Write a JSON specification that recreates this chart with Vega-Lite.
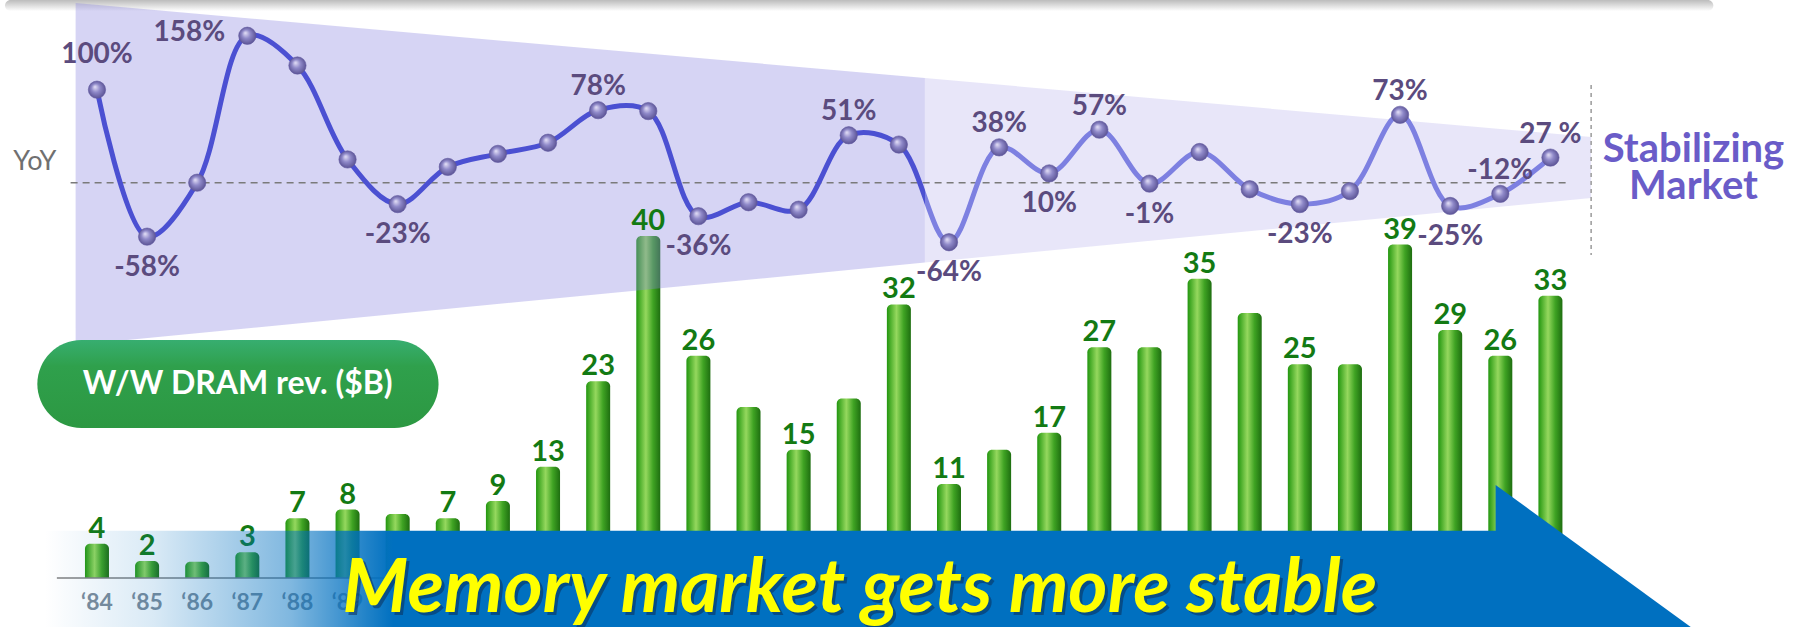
{
  "$schema": "https://vega.github.io/schema/vega-lite/v6.json",
  "width": 1796,
  "height": 627,
  "autosize": {"type": "none"},
  "padding": 0,
  "background": "white",
  "config": {"view": {"stroke": null}, "font": "Lato"},
  "datasets": {
    "dram": [
      {"year": 1984, "rev": 4, "revLabel": "4", "yoy": 100, "yoyLabel": "100%"},
      {"year": 1985, "rev": 2, "revLabel": "2", "yoy": -58, "yoyLabel": "-58%"},
      {"year": 1986, "rev": 1.9, "revLabel": null, "yoy": 0, "yoyLabel": null},
      {"year": 1987, "rev": 3, "revLabel": "3", "yoy": 158, "yoyLabel": "158%"},
      {"year": 1988, "rev": 7, "revLabel": "7", "yoy": 126, "yoyLabel": null},
      {"year": 1989, "rev": 8, "revLabel": "8", "yoy": 25, "yoyLabel": null},
      {"year": 1990, "rev": 7.5, "revLabel": null, "yoy": -23, "yoyLabel": "-23%"},
      {"year": 1991, "rev": 7, "revLabel": "7", "yoy": 17, "yoyLabel": null},
      {"year": 1992, "rev": 9, "revLabel": "9", "yoy": 31, "yoyLabel": null},
      {"year": 1993, "rev": 13, "revLabel": "13", "yoy": 43, "yoyLabel": null},
      {"year": 1994, "rev": 23, "revLabel": "23", "yoy": 78, "yoyLabel": "78%"},
      {"year": 1995, "rev": 40, "revLabel": "40", "yoy": 77, "yoyLabel": null},
      {"year": 1996, "rev": 26, "revLabel": "26", "yoy": -36, "yoyLabel": "-36%"},
      {"year": 1997, "rev": 20, "revLabel": null, "yoy": -21, "yoyLabel": null},
      {"year": 1998, "rev": 15, "revLabel": "15", "yoy": -29, "yoyLabel": null},
      {"year": 1999, "rev": 21, "revLabel": null, "yoy": 51, "yoyLabel": "51%"},
      {"year": 2000, "rev": 32, "revLabel": "32", "yoy": 41, "yoyLabel": null},
      {"year": 2001, "rev": 11, "revLabel": "11", "yoy": -64, "yoyLabel": "-64%"},
      {"year": 2002, "rev": 15, "revLabel": null, "yoy": 38, "yoyLabel": "38%"},
      {"year": 2003, "rev": 17, "revLabel": "17", "yoy": 10, "yoyLabel": "10%"},
      {"year": 2004, "rev": 27, "revLabel": "27", "yoy": 57, "yoyLabel": "57%"},
      {"year": 2005, "rev": 27, "revLabel": null, "yoy": -1, "yoyLabel": "-1%"},
      {"year": 2006, "rev": 35, "revLabel": "35", "yoy": 33, "yoyLabel": null},
      {"year": 2007, "rev": 31, "revLabel": null, "yoy": -7, "yoyLabel": null},
      {"year": 2008, "rev": 25, "revLabel": "25", "yoy": -23, "yoyLabel": "-23%"},
      {"year": 2009, "rev": 25, "revLabel": null, "yoy": -9, "yoyLabel": null},
      {"year": 2010, "rev": 39, "revLabel": "39", "yoy": 73, "yoyLabel": "73%"},
      {"year": 2011, "rev": 29, "revLabel": "29", "yoy": -25, "yoyLabel": "-25%"},
      {"year": 2012, "rev": 26, "revLabel": "26", "yoy": -12, "yoyLabel": "-12%"},
      {"year": 2013, "rev": 33, "revLabel": "33", "yoy": 27, "yoyLabel": "27 %"}
    ],
    "band": [
      {"year": 1983.574, "hi": 193.2, "lo": -174.5, "zone": "a"},
      {"year": 2000.518, "hi": 112.5, "lo": -85.9, "zone": "a"},
      {"year": 2000.518, "hi": 112.5, "lo": -85.9, "zone": "b"},
      {"year": 2013.812, "hi": 49.1, "lo": -16.5, "zone": "b"}
    ],
    "arrowhead": [
      {"x": 2011.907, "top": 10.88, "bot": -8.42},
      {"x": 2016.43, "top": -8.42, "bot": -8.42}
    ]
  },
  "layer": [
    {
      "layer": [
        {
          "data": {"values": [{}]},
          "mark": {"type": "rect", "cornerRadius": 6, "fill": {"gradient": "linear", "x1": 0, "y1": 0, "x2": 0, "y2": 1, "stops": [{"offset": 0, "color": "#bcbcbc"}, {"offset": 1, "color": "#ffffff"}]}},
          "encoding": {
            "x": {"datum": 1982.165, "type": "quantitative", "scale": {"domain": [1982.165, 2017.8], "nice": false, "zero": false}, "axis": null},
            "x2": {"datum": 2016.25},
            "y": {"datum": 67.6, "type": "quantitative", "scale": {"domain": [-5.73, 67.6], "nice": false, "zero": false}, "axis": null},
            "y2": {"datum": 66.3}
          }
        },
        {
          "data": {"name": "dram"},
          "mark": {"type": "bar", "width": 24, "cornerRadiusTopLeft": 5, "cornerRadiusTopRight": 5, "fill": {"gradient": "linear", "x1": 0, "y1": 0, "x2": 1, "y2": 0, "stops": [{"offset": 0, "color": "#22960f"}, {"offset": 0.4, "color": "#95d85e"}, {"offset": 0.7, "color": "#3fa323"}, {"offset": 1, "color": "#1e6e10"}]}},
          "encoding": {
            "x": {"field": "year", "type": "quantitative", "scale": {"domain": [1982.165, 2017.8], "nice": false, "zero": false}, "axis": null},
            "y": {"field": "rev", "type": "quantitative", "scale": {"domain": [-5.73, 67.6], "nice": false, "zero": false}, "axis": null},
            "y2": {"datum": 0}
          }
        }
      ]
    },
    {
      "layer": [
        {
          "data": {"name": "band"},
          "transform": [{"filter": "datum.zone == 'a'"}],
          "mark": {"type": "area", "color": "#8a84e0", "opacity": 0.35},
          "encoding": {
            "x": {"field": "year", "type": "quantitative", "scale": {"domain": [1982.165, 2017.8], "nice": false, "zero": false}, "axis": null},
            "y": {"field": "hi", "type": "quantitative", "scale": {"domain": [-477.7, 196.45], "nice": false, "zero": false}, "axis": null},
            "y2": {"field": "lo"}
          }
        },
        {
          "data": {"name": "band"},
          "transform": [{"filter": "datum.zone == 'b'"}],
          "mark": {"type": "area", "color": "#8a84e0", "opacity": 0.2},
          "encoding": {
            "x": {"field": "year", "type": "quantitative", "scale": {"domain": [1982.165, 2017.8], "nice": false, "zero": false}, "axis": null},
            "y": {"field": "hi", "type": "quantitative", "scale": {"domain": [-477.7, 196.45], "nice": false, "zero": false}, "axis": null},
            "y2": {"field": "lo"}
          }
        },
        {
          "data": {"values": [{}]},
          "mark": {"type": "rule", "color": "#7a7a7a", "strokeWidth": 1.5, "strokeDash": [7, 5]},
          "encoding": {
            "x": {"datum": 1983.474, "type": "quantitative", "scale": {"domain": [1982.165, 2017.8], "nice": false, "zero": false}, "axis": null},
            "x2": {"datum": 2013.395},
            "y": {"datum": 0, "type": "quantitative", "scale": {"domain": [-477.7, 196.45], "nice": false, "zero": false}, "axis": null}
          }
        },
        {
          "data": {"name": "dram"},
          "mark": {"type": "line", "interpolate": "catmull-rom", "strokeWidth": 5, "stroke": {"gradient": "linear", "x1": 0, "y1": 0, "x2": 1, "y2": 0, "stops": [{"offset": 0, "color": "#4b50d2"}, {"offset": 0.5696, "color": "#4b50d2"}, {"offset": 0.5697, "color": "#7d80e1"}, {"offset": 1, "color": "#7d80e1"}]}},
          "encoding": {
            "x": {"field": "year", "type": "quantitative", "scale": {"domain": [1982.165, 2017.8], "nice": false, "zero": false}, "axis": null},
            "y": {"field": "yoy", "type": "quantitative", "scale": {"domain": [-477.7, 196.45], "nice": false, "zero": false}, "axis": null}
          }
        },
        {
          "data": {"name": "dram"},
          "mark": {"type": "point", "filled": true, "size": 300, "opacity": 1, "stroke": "#5f58a0", "strokeWidth": 0.6, "fill": {"gradient": "radial", "x1": 0.38, "y1": 0.33, "r1": 0, "x2": 0.5, "y2": 0.5, "r2": 0.55, "stops": [{"offset": 0, "color": "#e6e2f8"}, {"offset": 0.45, "color": "#8f89c9"}, {"offset": 1, "color": "#554d8e"}]}},
          "encoding": {
            "x": {"field": "year", "type": "quantitative", "scale": {"domain": [1982.165, 2017.8], "nice": false, "zero": false}, "axis": null},
            "y": {"field": "yoy", "type": "quantitative", "scale": {"domain": [-477.7, 196.45], "nice": false, "zero": false}, "axis": null}
          }
        },
        {
          "data": {"name": "dram"},
          "transform": [{"filter": "indexof([1994, 1999, 2002, 2004, 2010, 2012, 2013], datum.year) >= 0"}],
          "mark": {"type": "text", "fontSize": 28, "fontWeight": "bold", "color": "#5b4b7e", "baseline": "middle", "align": "center", "dy": -23},
          "encoding": {
            "x": {"field": "year", "type": "quantitative", "scale": {"domain": [1982.165, 2017.8], "nice": false, "zero": false}, "axis": null},
            "y": {"field": "yoy", "type": "quantitative", "scale": {"domain": [-477.7, 196.45], "nice": false, "zero": false}, "axis": null},
            "text": {"field": "yoyLabel"}
          }
        },
        {
          "data": {"name": "dram"},
          "transform": [{"filter": "datum.year == 1984"}],
          "mark": {"type": "text", "fontSize": 28, "fontWeight": "bold", "color": "#5b4b7e", "baseline": "middle", "align": "center", "dy": -35},
          "encoding": {
            "x": {"field": "year", "type": "quantitative", "scale": {"domain": [1982.165, 2017.8], "nice": false, "zero": false}, "axis": null},
            "y": {"field": "yoy", "type": "quantitative", "scale": {"domain": [-477.7, 196.45], "nice": false, "zero": false}, "axis": null},
            "text": {"field": "yoyLabel"}
          }
        },
        {
          "data": {"name": "dram"},
          "transform": [{"filter": "datum.year == 1987"}],
          "mark": {"type": "text", "fontSize": 28, "fontWeight": "bold", "color": "#5b4b7e", "baseline": "middle", "align": "center", "dx": -58, "dy": -3},
          "encoding": {
            "x": {"field": "year", "type": "quantitative", "scale": {"domain": [1982.165, 2017.8], "nice": false, "zero": false}, "axis": null},
            "y": {"field": "yoy", "type": "quantitative", "scale": {"domain": [-477.7, 196.45], "nice": false, "zero": false}, "axis": null},
            "text": {"field": "yoyLabel"}
          }
        },
        {
          "data": {"name": "dram"},
          "transform": [{"filter": "indexof([1985, 1990, 1996, 2001, 2003, 2005, 2008, 2011], datum.year) >= 0"}],
          "mark": {"type": "text", "fontSize": 28, "fontWeight": "bold", "color": "#5b4b7e", "baseline": "middle", "align": "center", "dy": 31},
          "encoding": {
            "x": {"field": "year", "type": "quantitative", "scale": {"domain": [1982.165, 2017.8], "nice": false, "zero": false}, "axis": null},
            "y": {"field": "yoy", "type": "quantitative", "scale": {"domain": [-477.7, 196.45], "nice": false, "zero": false}, "axis": null},
            "text": {"field": "yoyLabel"}
          }
        }
      ]
    },
    {
      "layer": [
        {
          "data": {"name": "dram"},
          "transform": [{"filter": "datum.revLabel != null"}],
          "mark": {"type": "text", "fontSize": 29, "fontWeight": "bold", "color": "#137a13", "baseline": "alphabetic", "align": "center", "dy": -6},
          "encoding": {
            "x": {"field": "year", "type": "quantitative", "scale": {"domain": [1982.165, 2017.8], "nice": false, "zero": false}, "axis": null},
            "y": {"field": "rev", "type": "quantitative", "scale": {"domain": [-5.73, 67.6], "nice": false, "zero": false}, "axis": null},
            "text": {"field": "revLabel"}
          }
        },
        {
          "data": {"values": [{}]},
          "mark": {"type": "rect", "cornerRadius": 44, "fill": {"gradient": "linear", "x1": 0, "y1": 0, "x2": 0, "y2": 1, "stops": [{"offset": 0, "color": "#37ae70"}, {"offset": 0.3, "color": "#2fa04c"}, {"offset": 1, "color": "#2c9842"}]}},
          "encoding": {
            "x": {"datum": 1982.81, "type": "quantitative", "scale": {"domain": [1982.165, 2017.8], "nice": false, "zero": false}, "axis": null},
            "x2": {"datum": 1990.815},
            "y": {"datum": 27.84, "type": "quantitative", "scale": {"domain": [-5.73, 67.6], "nice": false, "zero": false}, "axis": null},
            "y2": {"datum": 17.54}
          }
        },
        {
          "data": {"values": [{}]},
          "mark": {"type": "text", "text": "W/W DRAM rev. ($B)", "fontSize": 32, "fontWeight": "bold", "color": "#ffffff", "align": "center", "baseline": "middle"},
          "encoding": {
            "x": {"datum": 1986.808, "type": "quantitative", "scale": {"domain": [1982.165, 2017.8], "nice": false, "zero": false}, "axis": null},
            "y": {"datum": 22.69, "type": "quantitative", "scale": {"domain": [-5.73, 67.6], "nice": false, "zero": false}, "axis": null}
          }
        },
        {
          "data": {"values": [{}]},
          "mark": {"type": "text", "text": "YoY", "fontSize": 27, "color": "#707070", "align": "center", "baseline": "middle"},
          "encoding": {
            "x": {"datum": 1982.76, "type": "quantitative", "scale": {"domain": [1982.165, 2017.8], "nice": false, "zero": false}, "axis": null},
            "y": {"datum": 48.65, "type": "quantitative", "scale": {"domain": [-5.73, 67.6], "nice": false, "zero": false}, "axis": null}
          }
        },
        {
          "data": {"values": [{}]},
          "mark": {"type": "text", "text": ["Stabilizing", "Market"], "lineHeight": 37, "fontSize": 40, "fontWeight": "bold", "color": "#6a5cc8", "align": "center", "baseline": "middle"},
          "encoding": {
            "x": {"datum": 2015.855, "type": "quantitative", "scale": {"domain": [1982.165, 2017.8], "nice": false, "zero": false}, "axis": null},
            "y": {"datum": 50.06, "type": "quantitative", "scale": {"domain": [-5.73, 67.6], "nice": false, "zero": false}, "axis": null}
          }
        },
        {
          "data": {"values": [{}]},
          "mark": {"type": "rule", "color": "#9a9a9a", "strokeWidth": 1.5, "strokeDash": [4, 4]},
          "encoding": {
            "x": {"datum": 2013.812, "type": "quantitative", "scale": {"domain": [1982.165, 2017.8], "nice": false, "zero": false}, "axis": null},
            "y": {"datum": 57.66, "type": "quantitative", "scale": {"domain": [-5.73, 67.6], "nice": false, "zero": false}, "axis": null},
            "y2": {"datum": 37.78}
          }
        },
        {
          "data": {"name": "dram"},
          "transform": [{"filter": "datum.year <= 1989"}, {"calculate": "'‘' + substring(toString(datum.year), 2)", "as": "yl"}],
          "mark": {"type": "text", "fontSize": 23, "fontWeight": "bold", "color": "#7e8c9a", "align": "center", "baseline": "middle"},
          "encoding": {
            "x": {"field": "year", "type": "quantitative", "scale": {"domain": [1982.165, 2017.8], "nice": false, "zero": false}, "axis": null},
            "y": {"datum": -2.92, "type": "quantitative", "scale": {"domain": [-5.73, 67.6], "nice": false, "zero": false}, "axis": null},
            "text": {"field": "yl"}
          }
        },
        {
          "data": {"values": [{}]},
          "mark": {"type": "rule", "color": "#808080", "strokeWidth": 1.5},
          "encoding": {
            "x": {"datum": 1983.2, "type": "quantitative", "scale": {"domain": [1982.165, 2017.8], "nice": false, "zero": false}, "axis": null},
            "x2": {"datum": 2011.0},
            "y": {"datum": 0, "type": "quantitative", "scale": {"domain": [-5.73, 67.6], "nice": false, "zero": false}, "axis": null}
          }
        },
        {
          "data": {"values": [{}]},
          "mark": {"type": "rect", "fill": {"gradient": "linear", "x1": 0, "y1": 0, "x2": 1, "y2": 0, "stops": [{"offset": 0, "color": "rgba(0,112,192,0)"}, {"offset": 0.075, "color": "rgba(0,112,192,0.15)"}, {"offset": 0.17, "color": "rgba(0,112,192,0.5)"}, {"offset": 0.24, "color": "rgba(0,112,192,1)"}, {"offset": 1, "color": "rgba(0,112,192,1)"}]}},
          "encoding": {
            "x": {"datum": 1982.959, "type": "quantitative", "scale": {"domain": [1982.165, 2017.8], "nice": false, "zero": false}, "axis": null},
            "x2": {"datum": 2011.92},
            "y": {"datum": 5.53, "type": "quantitative", "scale": {"domain": [-5.73, 67.6], "nice": false, "zero": false}, "axis": null},
            "y2": {"datum": -8.42}
          }
        },
        {
          "data": {"name": "arrowhead"},
          "mark": {"type": "area", "color": "#0070c0", "opacity": 1},
          "encoding": {
            "x": {"field": "x", "type": "quantitative", "scale": {"domain": [1982.165, 2017.8], "nice": false, "zero": false}, "axis": null},
            "y": {"field": "top", "type": "quantitative", "scale": {"domain": [-5.73, 67.6], "nice": false, "zero": false}, "axis": null},
            "y2": {"field": "bot"}
          }
        },
        {
          "data": {"values": [{}]},
          "mark": {"type": "text", "text": "Memory market gets more stable", "fontSize": 75, "fontWeight": "bold", "fontStyle": "italic", "color": "#0a2f5a", "opacity": 0.55, "align": "left", "baseline": "alphabetic", "dx": 3, "dy": 3},
          "encoding": {
            "x": {"datum": 1988.9, "type": "quantitative", "scale": {"domain": [1982.165, 2017.8], "nice": false, "zero": false}, "axis": null},
            "y": {"datum": -4.0, "type": "quantitative", "scale": {"domain": [-5.73, 67.6], "nice": false, "zero": false}, "axis": null}
          }
        },
        {
          "data": {"values": [{}]},
          "mark": {"type": "text", "text": "Memory market gets more stable", "fontSize": 75, "fontWeight": "bold", "fontStyle": "italic", "color": "#ffff00", "align": "left", "baseline": "alphabetic"},
          "encoding": {
            "x": {"datum": 1988.9, "type": "quantitative", "scale": {"domain": [1982.165, 2017.8], "nice": false, "zero": false}, "axis": null},
            "y": {"datum": -4.0, "type": "quantitative", "scale": {"domain": [-5.73, 67.6], "nice": false, "zero": false}, "axis": null}
          }
        }
      ]
    }
  ],
  "resolve": {"scale": {"y": "independent"}}
}
